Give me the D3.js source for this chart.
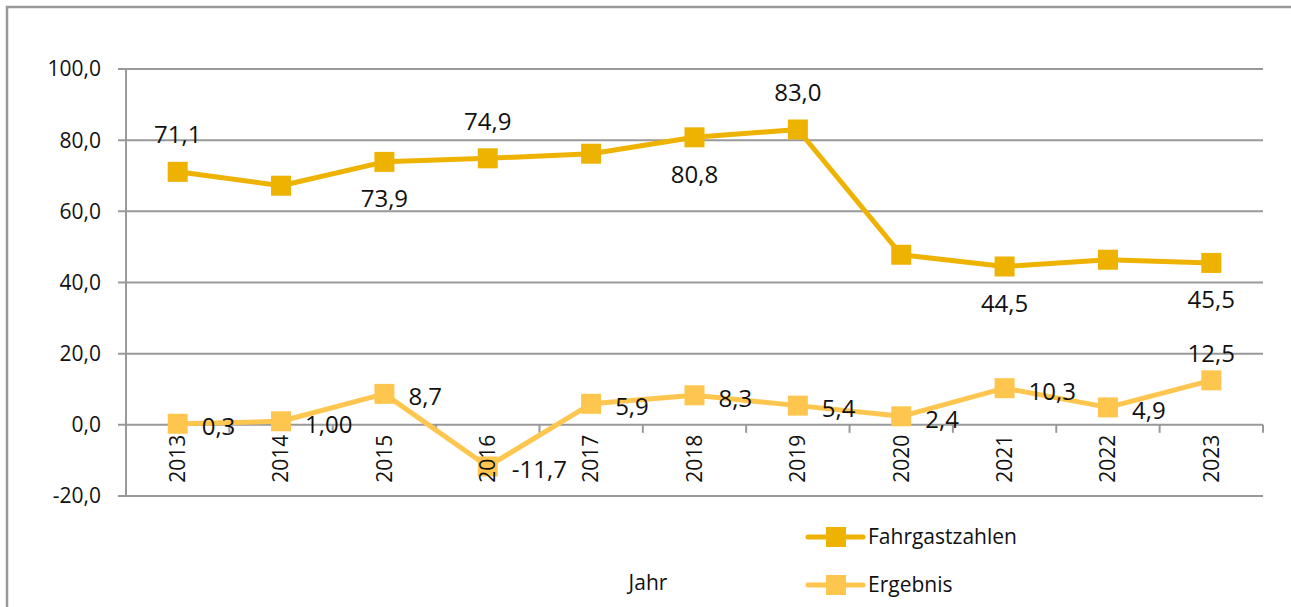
<!DOCTYPE html>
<html>
<head>
<meta charset="utf-8">
<script src="https://cdn.jsdelivr.net/npm/d3@7"></script>
<style>
  body { margin: 0; background: #fff; }
  text { font-family: "Open Sans", sans-serif; fill: #111; }
</style>
</head>
<body>
<div id="chart"></div>
<script>
// data
const years = ["2013", "2014", "2015", "2016", "2017", "2018", "2019", "2020", "2021", "2022", "2023"];
const fahrgast = [71.1, 67.2, 73.9, 74.9, 76.2, 80.8, 83.0, 47.8, 44.5, 46.4, 45.5];
const ergebnis = [0.3, 1.0, 8.7, -11.7, 5.9, 8.3, 5.4, 2.4, 10.3, 4.9, 12.5];
// which Fahrgastzahlen labels are shown, and where (above / below)
const fahrgastLabels = ["71,1", null, "73,9", "74,9", null, "80,8", "83,0", null, "44,5", null, "45,5"];
const fahrgastPos = ["up", null, "down", "up", null, "down", "up", null, "down", null, "down"];
const ergebnisLabels = ["0,3", "1,00", "8,7", "-11,7", "5,9", "8,3", "5,4", "2,4", "10,3", "4,9", "12,5"];
const yTicks = [-20, 0, 20, 40, 60, 80, 100];
const seriesNames = ["Fahrgastzahlen", "Ergebnis"];
const colors = ["#eeb200", "#ffc64f"];

const width = 1291, height = 607;
const margin = {top: 69, right: 28, bottom: 111, left: 126};

const svg = d3.select("#chart").append("svg")
  .attr("width", width)
  .attr("height", height);

// outer frame (only top and left are visible in the picture)
svg.append("rect")
  .attr("x", 7).attr("y", 7)
  .attr("width", width + 20).attr("height", height + 20)
  .attr("fill", "none").attr("stroke", "#999").attr("stroke-width", 2.5);

const x = d3.scaleBand()
  .domain(years)
  .range([margin.left, width - margin.right])
  .padding(0);

const y = d3.scaleLinear()
  .domain([-20, 100])
  .range([height - margin.bottom, margin.top]);

const fmt = v => d3.format(".1f")(v).replace(".", ",").replace("−", "-");

// horizontal gridlines with small left ticks
svg.append("g")
  .selectAll("line")
  .data(yTicks)
  .join("line")
  .attr("x1", margin.left - 8)
  .attr("x2", width - margin.right)
  .attr("y1", d => y(d)).attr("y2", d => y(d))
  .attr("stroke", "#999").attr("stroke-width", 2);

// y axis line
svg.append("line")
  .attr("x1", margin.left).attr("x2", margin.left)
  .attr("y1", y(100)).attr("y2", y(-20))
  .attr("stroke", "#999").attr("stroke-width", 2);

// y tick labels
svg.append("g")
  .selectAll("text")
  .data(yTicks)
  .join("text")
  .attr("x", margin.left - 25)
  .attr("y", d => y(d))
  .attr("dy", "0.35em")
  .attr("text-anchor", "end")
  .style("font-size", "21px")
  .text(d => fmt(d));

// category ticks on the zero line
const bounds = years.map(d => x(d)).concat([x.range()[1]]);
svg.append("g")
  .selectAll("line")
  .data(bounds)
  .join("line")
  .attr("x1", d => d).attr("x2", d => d)
  .attr("y1", y(0)).attr("y2", y(0) + 8)
  .attr("stroke", "#999").attr("stroke-width", 2);

const cx = d => x(d) + x.bandwidth() / 2;

const line = d3.line()
  .x((d, i) => cx(years[i]))
  .y(d => y(d));

const series = [fahrgast, ergebnis];
series.forEach((vals, s) => {
  svg.append("path")
    .datum(vals)
    .attr("d", line)
    .attr("fill", "none")
    .attr("stroke", colors[s])
    .attr("stroke-width", 5)
    .attr("stroke-linejoin", "round");

  svg.append("g")
    .selectAll("rect")
    .data(vals)
    .join("rect")
    .attr("x", (d, i) => cx(years[i]) - 10)
    .attr("y", d => y(d) - 10)
    .attr("width", 20).attr("height", 20)
    .attr("fill", colors[s]);
});

// year labels, rotated (drawn over the markers like in the picture)
svg.append("g")
  .selectAll("text")
  .data(years)
  .join("text")
  .attr("transform", d => `translate(${cx(d)},${y(0) + 10}) rotate(-90)`)
  .attr("text-anchor", "end")
  .attr("dy", "0.35em")
  .style("font-size", "21px")
  .text(d => d);

// Fahrgastzahlen labels (only the ones shown in the picture)
const fgIdx = years.map((d, i) => i).filter(i => fahrgastLabels[i] !== null);
svg.append("g")
  .selectAll("text")
  .data(fgIdx)
  .join("text")
  .attr("x", i => cx(years[i]))
  .attr("y", i => y(fahrgast[i]) + (fahrgastPos[i] === "up" ? -37 : 37))
  .attr("dy", "0.35em")
  .attr("text-anchor", "middle")
  .style("font-size", "24px")
  .text(i => fahrgastLabels[i]);

// Ergebnis labels (right of point, last one above)
const last = years.length - 1;
svg.append("g")
  .selectAll("text")
  .data(ergebnis)
  .join("text")
  .attr("x", (d, i) => i === last ? cx(years[i]) : cx(years[i]) + 24)
  .attr("y", (d, i) => i === last ? y(d) - 27 : y(d) + 3)
  .attr("dy", "0.35em")
  .attr("text-anchor", (d, i) => i === last ? "middle" : "start")
  .style("font-size", "24px")
  .text((d, i) => ergebnisLabels[i]);

// x axis title
svg.append("text")
  .attr("x", 648).attr("y", 583)
  .attr("dy", "0.35em")
  .attr("text-anchor", "middle")
  .style("font-size", "21px")
  .text("Jahr");

// legend
const legend = svg.append("g")
  .selectAll("g")
  .data(seriesNames)
  .join("g")
  .attr("transform", (d, i) => `translate(808,${537 + i * 48})`);

legend.append("line")
  .attr("x1", 0).attr("x2", 55)
  .attr("stroke", (d, i) => colors[i])
  .attr("stroke-width", 5)
  .attr("stroke-linecap", "round");

legend.append("rect")
  .attr("x", 18).attr("y", -10)
  .attr("width", 20).attr("height", 20)
  .attr("fill", (d, i) => colors[i]);

legend.append("text")
  .attr("x", 60)
  .attr("dy", "0.35em")
  .style("font-size", "21px")
  .text(d => d);
</script>
</body>
</html>
